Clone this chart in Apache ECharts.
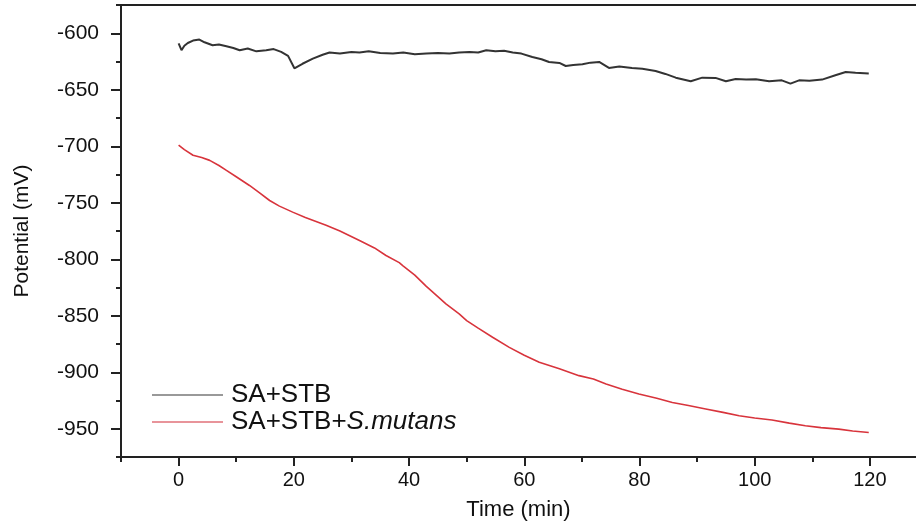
<!DOCTYPE html>
<html>
<head>
<meta charset="utf-8">
<script src="https://cdn.jsdelivr.net/npm/echarts@6/dist/echarts.min.js"></script>
<style>
  html, body { margin: 0; padding: 0; background: #fff; }
  #chart { width: 916px; height: 527px; }
</style>
</head>
<body>
<div id="chart"></div>
<script>
// SA+STB (black)
var timeBlack = [0, 0.5, 1, 1.6, 2.5, 3.6, 4.5, 5.9, 7, 8.3, 9.5, 10.6, 12, 13.5, 15.2, 16.5, 17.8, 19, 20.1, 21.5,
    23.3, 25, 26.2, 28, 30, 31.4, 33, 35, 37.2, 39, 41, 43, 45, 47, 48.7, 50.5, 52, 53.4, 55, 56.5,
    58, 59.5, 61.4, 63, 64.3, 66.1, 67.2, 68.5, 70.1, 71.5, 73, 74.7, 76.5, 78.7, 80.5, 82.8, 84.5, 86.3, 88.9, 90.9,
    93.2, 95, 96.7, 98.5, 100.2, 102.5, 104.7, 106.2, 107.7, 109.5, 111.7, 114, 115.8, 117.5, 119.8];
var potentialBlack = [-609, -615, -611, -608.6, -606.5, -605.6, -608, -610.6, -610, -611.5, -613, -615, -613.5, -616, -615, -614, -616.5, -620, -631, -627,
    -622.5, -619, -617, -618, -616.5, -617, -616, -617.5, -618, -617, -618.5, -618, -617.5, -618, -617, -616.5, -617, -615, -616, -615.5,
    -617, -618, -621, -623, -625.4, -626.3, -629, -628, -627.5, -626, -625.4, -630.7, -629.5, -630.7, -631.5, -633.4, -636, -639.3, -642.5, -639.3,
    -639.5, -642.5, -640.5, -641, -640.7, -642.5, -641.7, -644.6, -641.7, -642, -641, -637.2, -634.3, -635, -635.7];

// SA+STB+S.mutans (red)
var timeRed = [0, 1, 2.5, 4, 5.4, 7, 8.3, 10, 12.3, 14, 15.8, 17.5, 19.8, 22, 25.6, 28, 31.4, 34, 36, 38.3,
    38.9, 41, 43, 45, 46.4, 48.7, 50, 52, 54.5, 57.4, 60, 62.6, 66.1, 69.5, 72, 74.2, 77, 79.9, 83, 85.7,
    88.5, 91.5, 94.5, 97.3, 100, 103, 106, 108.8, 111.5, 114.6, 117, 119.8];
var potentialRed = [-699, -703, -708, -710, -712.5, -717, -721.4, -727, -734.7, -741, -748, -753, -758.3, -763, -770, -775, -783.4, -790, -796.7, -803,
    -805.6, -814, -824, -833, -839.5, -848.4, -854.3, -861, -869, -878, -885, -891.2, -897, -903, -906, -910.4, -915, -919.2, -923, -926.7,
    -929.5, -932.5, -935.5, -938.5, -940.5, -942.3, -945, -947.3, -949, -950.3, -952, -953.3];

var seriesNames = ['SA+STB', 'SA+STB+S.mutans'];
var xMajor = [0, 20, 40, 60, 80, 100, 120];
var xMinor = [-10, 10, 30, 50, 70, 90, 110];
var yMajor = [-950, -900, -850, -800, -750, -700, -650, -600];
var yMinor = [-975, -925, -875, -825, -775, -725, -675, -625, -575];

function pairs(xs, ys) {
    var out = [];
    for (var i = 0; i < xs.length; i++) out.push([xs[i], ys[i]]);
    return out;
}

var FONT = 'Liberation Sans';
var X_MIN = -10, X_MAX = 128, Y_MIN = -975, Y_MAX = -575;
var axisLineStyle = { color: '#222', width: 2 };

var myChart = echarts.init(document.getElementById('chart'));
var option = {
    backgroundColor: '#fff',
    animation: false,
    grid: { left: 121, right: 0, top: 5, bottom: 70 },
    legend: {
        left: 147,
        top: 377,
        orient: 'vertical',
        icon: 'rect',
        itemWidth: 71,
        itemHeight: 1.5,
        itemGap: 1,
        data: seriesNames,
        textStyle: {
            fontFamily: FONT, fontSize: 26, color: '#111', padding: [0, 0, 0, 3],
            rich: {
                n: { fontFamily: FONT, fontSize: 26, color: '#111' },
                i: { fontFamily: FONT, fontSize: 26, color: '#111', fontStyle: 'italic' }
            }
        },
        formatter: function (name) {
            if (name === seriesNames[1]) return '{n|SA+STB+}{i|S.mutans}';
            return '{n|' + name + '}';
        }
    },
    xAxis: [
        {
            type: 'value', min: X_MIN, max: X_MAX, position: 'bottom',
            name: 'Time (min)', nameLocation: 'middle', nameGap: 42,
            nameTextStyle: { fontFamily: FONT, fontSize: 22, color: '#111' },
            axisLine: { onZero: false, lineStyle: axisLineStyle },
            axisTick: { customValues: xMajor, length: 9, lineStyle: { color: '#222', width: 2 } },
            axisLabel: { customValues: xMajor, margin: 13, fontFamily: FONT, fontSize: 20, color: '#111' },
            splitLine: { show: false }
        },
        {
            type: 'value', min: X_MIN, max: X_MAX, position: 'bottom',
            axisLine: { show: false, onZero: false },
            axisTick: { customValues: xMinor, length: 5, lineStyle: { color: '#222', width: 2 } },
            axisLabel: { show: false },
            splitLine: { show: false }
        },
        {
            type: 'value', min: X_MIN, max: X_MAX, position: 'top',
            axisLine: { onZero: false, lineStyle: axisLineStyle },
            axisTick: { show: false },
            axisLabel: { show: false },
            splitLine: { show: false }
        }
    ],
    yAxis: [
        {
            type: 'value', min: Y_MIN, max: Y_MAX, position: 'left',
            name: 'Potential (mV)', nameLocation: 'middle', nameGap: 88,
            nameTextStyle: { fontFamily: FONT, fontSize: 21, color: '#111' },
            axisLine: { onZero: false, lineStyle: axisLineStyle },
            axisTick: { customValues: yMajor, length: 10, lineStyle: { color: '#222', width: 2 } },
            axisLabel: { customValues: yMajor, margin: 22, fontFamily: FONT, fontSize: 21, color: '#111' },
            splitLine: { show: false }
        },
        {
            type: 'value', min: Y_MIN, max: Y_MAX, position: 'left',
            axisLine: { show: false, onZero: false },
            axisTick: { customValues: yMinor, length: 5, lineStyle: { color: '#222', width: 2 } },
            axisLabel: { show: false },
            splitLine: { show: false }
        }
    ],
    series: [
        {
            name: seriesNames[0], type: 'line', xAxisIndex: 0, yAxisIndex: 0,
            data: pairs(timeBlack, potentialBlack),
            showSymbol: false, symbol: 'none',
            lineStyle: { color: '#333', width: 2 },
            itemStyle: { color: '#777' }
        },
        {
            name: seriesNames[1], type: 'line', xAxisIndex: 0, yAxisIndex: 0,
            data: pairs(timeRed, potentialRed),
            showSymbol: false, symbol: 'none',
            lineStyle: { color: '#d8343c', width: 1.6 },
            itemStyle: { color: '#e07078' }
        }
    ]
};
myChart.setOption(option);
window.onresize = function () {
    myChart.resize();
};
</script>
</body>
</html>
